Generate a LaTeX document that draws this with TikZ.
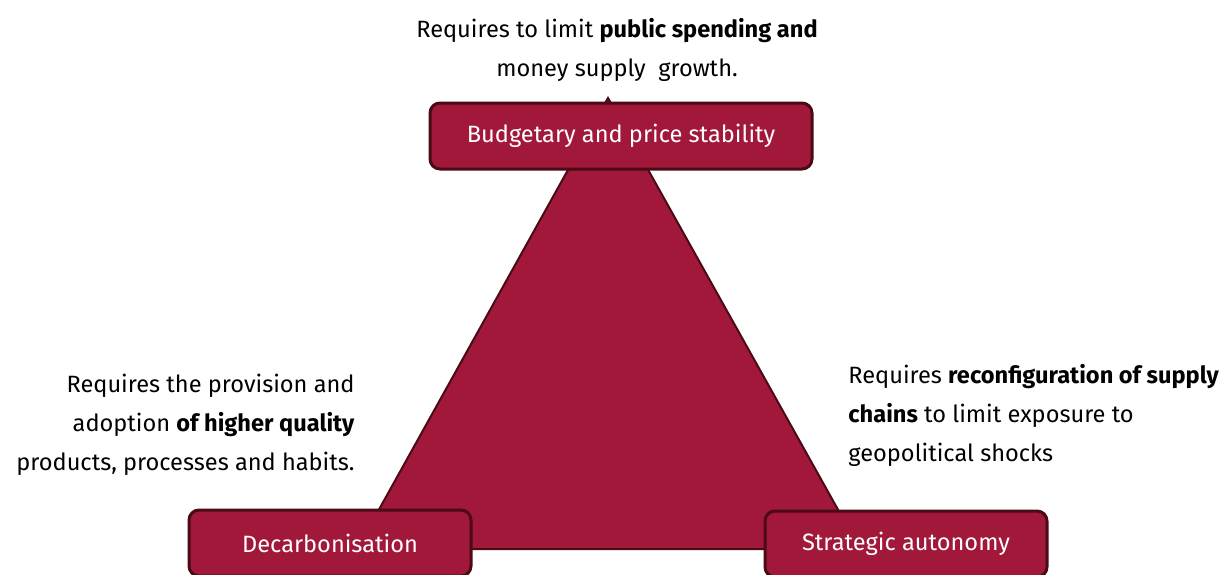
\documentclass[tikz,border=0pt]{standalone}
\usepackage{fontspec}
\setmainfont{Fira Sans}
\definecolor{wine}{HTML}{A1183A}
\definecolor{winedark}{HTML}{4A0A16}
\tikzset{
  pillar/.style={draw=winedark, fill=wine, line width=1.5pt, rounded corners=5pt,
    text=white, minimum height=33pt, inner sep=0pt, font=\fontsize{11.8}{14}\selectfont},
  note/.style={text=black, inner sep=0pt, font=\fontsize{11.8}{19.5}\selectfont}
}
\begin{document}
\begin{tikzpicture}[x=0.5pt,y=-0.5pt]
    \clip (0,0) rectangle (1231,574);
    % the triangle behind the three boxes
    \draw[fill=wine, draw=winedark, line width=1pt] (608,98) -- (860,549) -- (357,549) -- cycle;

    \node[pillar, minimum width=191pt] (budget) at (621,136) {Budgetary and price stability};
    \node[pillar, minimum width=141pt] (decarb) at (330,543) {Decarbonisation};
    \node[pillar, minimum width=141pt] (autonomy) at (906,544) {Strategic autonomy};

    \node[note, align=center, anchor=south] (budgetnote) at (617,82)
        {Requires to limit \textbf{public spending and}\\money supply\ \ growth.};
    \node[note, align=right, anchor=east] (decarbnote) at (355,425)
        {Requires the provision and\\adoption \textbf{of higher quality}\\products, processes and habits.};
    \node[note, align=left, anchor=west] (autonomynote) at (848,415)
        {Requires \textbf{reconfiguration of supply}\\\textbf{chains} to limit exposure to\\geopolitical shocks};
\end{tikzpicture}
\end{document}
